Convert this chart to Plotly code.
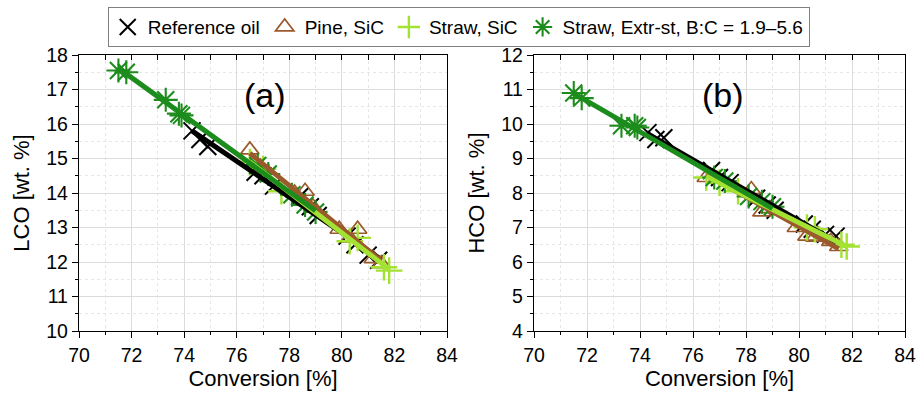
import numpy as np
import plotly.graph_objects as go

# ---- data: conversion [%], LCO [wt. %], HCO [wt. %] per feed ----
ref_conv = [74.3, 74.6, 74.9, 76.7, 77.0, 77.4, 78.4, 78.8, 79.1, 80.2, 80.5, 81.0, 81.4]
ref_lco = [15.8, 15.55, 15.35, 14.6, 14.5, 14.2, 13.9, 13.6, 13.35, 12.75, 12.5, 12.2, 12.05]
ref_hco = [9.75, 9.55, 9.6, 8.65, 8.45, 8.3, 7.85, 7.65, 7.5, 7.1, 6.95, 6.8, 6.75]

pine_conv = [76.5, 76.9, 78.2, 78.6, 78.9, 79.9, 80.3, 80.6, 81.2, 81.5]
pine_lco = [15.25, 14.75, 14.0, 14.05, 13.6, 12.95, 12.7, 12.95, 12.1, 11.95]
pine_hco = [8.45, 8.4, 8.1, 7.45, 7.55, 7.0, 6.75, 6.72, 6.6, 6.45]

straw_conv = [76.5, 77.0, 77.7, 80.3, 80.6, 81.6, 81.8]
straw_lco = [14.9, 14.7, 14.05, 12.6, 12.7, 11.85, 11.75]
straw_hco = [8.45, 8.3, 8.05, 7.0, 6.95, 6.5, 6.45]

extr_conv = [71.5, 71.8, 73.3, 73.8, 73.9, 76.8, 77.2, 78.1, 78.6, 79.0]
extr_lco = [17.55, 17.5, 16.7, 16.3, 16.25, 14.8, 14.55, 13.95, 13.65, 13.45]
extr_hco = [10.9, 10.75, 9.95, 9.95, 9.9, 8.45, 8.35, 7.9, 7.75, 7.6]

series_names = ["Reference oil", "Pine, SiC", "Straw, SiC", "Straw, Extr-st, B:C = 1.9\u20135.6"]
series_colors = ["#000000", "#9a5a2c", "#a3e233", "#1c8c1c"]
series_symbols = ["x-thin-open", "triangle-up-open", "cross-thin-open", "asterisk-open"]
series_sizes = [17, 16, 19, 20]
series_widths = [2, 1.7, 2.4, 2.1]

conv_sets = [ref_conv, pine_conv, straw_conv, extr_conv]
lco_sets = [ref_lco, pine_lco, straw_lco, extr_lco]
hco_sets = [ref_hco, pine_hco, straw_hco, extr_hco]

FONT = "Arial, Liberation Sans, sans-serif"

fig = go.Figure()

# markers
for panel, ysets in ((1, lco_sets), (2, hco_sets)):
    xa = "x" if panel == 1 else "x2"
    ya = "y" if panel == 1 else "y2"
    for i in range(4):
        fig.add_trace(go.Scatter(
            x=conv_sets[i], y=ysets[i], xaxis=xa, yaxis=ya,
            mode="markers", name=series_names[i], legendgroup=series_names[i],
            showlegend=(panel == 1),
            marker=dict(symbol=series_symbols[i], size=series_sizes[i],
                        color=series_colors[i],
                        line=dict(color=series_colors[i], width=series_widths[i])),
        ))

# linear fits drawn over the markers
for panel, ysets in ((1, lco_sets), (2, hco_sets)):
    xa = "x" if panel == 1 else "x2"
    ya = "y" if panel == 1 else "y2"
    for i in range(4):
        cx = np.array(conv_sets[i])
        k, b = np.polyfit(cx, np.array(ysets[i]), 1)
        xs = np.array([cx.min(), cx.max()])
        fig.add_trace(go.Scatter(
            x=xs, y=k * xs + b, xaxis=xa, yaxis=ya, mode="lines",
            line=dict(color=series_colors[i], width=5),
            showlegend=False, hoverinfo="skip", legendgroup=series_names[i],
        ))

# panel geometry
xdom_a = [79 / 923, 447 / 923]
xdom_b = [534 / 923, 905 / 923]
ydom = [1 - 331 / 394, 1 - 55 / 394]

tickfont = dict(family=FONT, size=19.5, color="#000")
titlefont = dict(family=FONT, size=22, color="#000")


def xaxis_cfg(dom, anchor):
    return dict(
        domain=dom, anchor=anchor, range=[70, 84], dtick=2, tick0=70,
        showline=True, linecolor="#000", linewidth=1.3, mirror=True,
        ticks="outside", ticklen=6, tickwidth=1.3, tickcolor="#000",
        showgrid=True, gridcolor="#dcdcdc", gridwidth=1, zeroline=False,
        minor=dict(dtick=1, ticks="outside", ticklen=3, tickwidth=1.3, tickcolor="#000",
                   showgrid=True, gridcolor="#e6e6e6", griddash="dot", gridwidth=1),
        tickfont=tickfont,
        title=dict(text="Conversion [%]", font=titlefont, standoff=3),
        automargin=False,
    )


def yaxis_cfg(rng, anchor, title):
    return dict(
        domain=ydom, anchor=anchor, range=rng, dtick=1,
        showline=True, linecolor="#000", linewidth=1.3, mirror=True,
        ticks="outside", ticklen=6, tickwidth=1.3, tickcolor="#000",
        showgrid=True, gridcolor="#dcdcdc", gridwidth=1, zeroline=False,
        minor=dict(dtick=0.5, ticks="outside", ticklen=3, tickwidth=1.3, tickcolor="#000",
                   showgrid=True, gridcolor="#e6e6e6", griddash="dot", gridwidth=1),
        tickfont=tickfont,
        title=dict(text=title, font=titlefont, standoff=10),
        automargin=False,
    )


def top_axis(overlay):
    return dict(
        overlaying=overlay, side="top", range=[70, 84], dtick=1, tick0=70,
        ticks="inside", ticklen=5, tickwidth=1.3, tickcolor="#000",
        showticklabels=False, showgrid=False, showline=False, zeroline=False,
        automargin=False,
    )


# invisible traces to activate the top tick axes
fig.add_trace(go.Scatter(x=[70], y=[10], xaxis="x3", yaxis="y", mode="markers",
                         marker=dict(opacity=0), showlegend=False, hoverinfo="skip"))
fig.add_trace(go.Scatter(x=[70], y=[4], xaxis="x4", yaxis="y2", mode="markers",
                         marker=dict(opacity=0), showlegend=False, hoverinfo="skip"))

fig.update_layout(
    width=923, height=394,
    margin=dict(l=0, r=0, t=0, b=0),
    paper_bgcolor="white", plot_bgcolor="white",
    font=dict(family=FONT, color="#000"),
    xaxis=xaxis_cfg(xdom_a, "y"),
    yaxis=yaxis_cfg([10, 18], "x", "LCO [wt. %]"),
    xaxis2=xaxis_cfg(xdom_b, "y2"),
    yaxis2=yaxis_cfg([4, 12], "x2", "HCO [wt. %]"),
    xaxis3=dict(top_axis("x"), anchor="y", domain=xdom_a),
    xaxis4=dict(top_axis("x2"), anchor="y2", domain=xdom_b),
    legend=dict(orientation="h", x=0.497, xanchor="center", y=0.982, yanchor="top",
                bordercolor="#808080", borderwidth=1, bgcolor="white",
                font=dict(family=FONT, size=19, color="#000"),
                itemsizing="trace", tracegroupgap=0),
    annotations=[
        dict(text="(a)", x=77.07, y=16.84, xref="x", yref="y", showarrow=False,
             font=dict(family=FONT, size=34, color="#000")),
        dict(text="(b)", x=77.13, y=10.84, xref="x2", yref="y2", showarrow=False,
             font=dict(family=FONT, size=34, color="#000")),
    ],
    showlegend=True,
)

fig.write_html("out.html")
